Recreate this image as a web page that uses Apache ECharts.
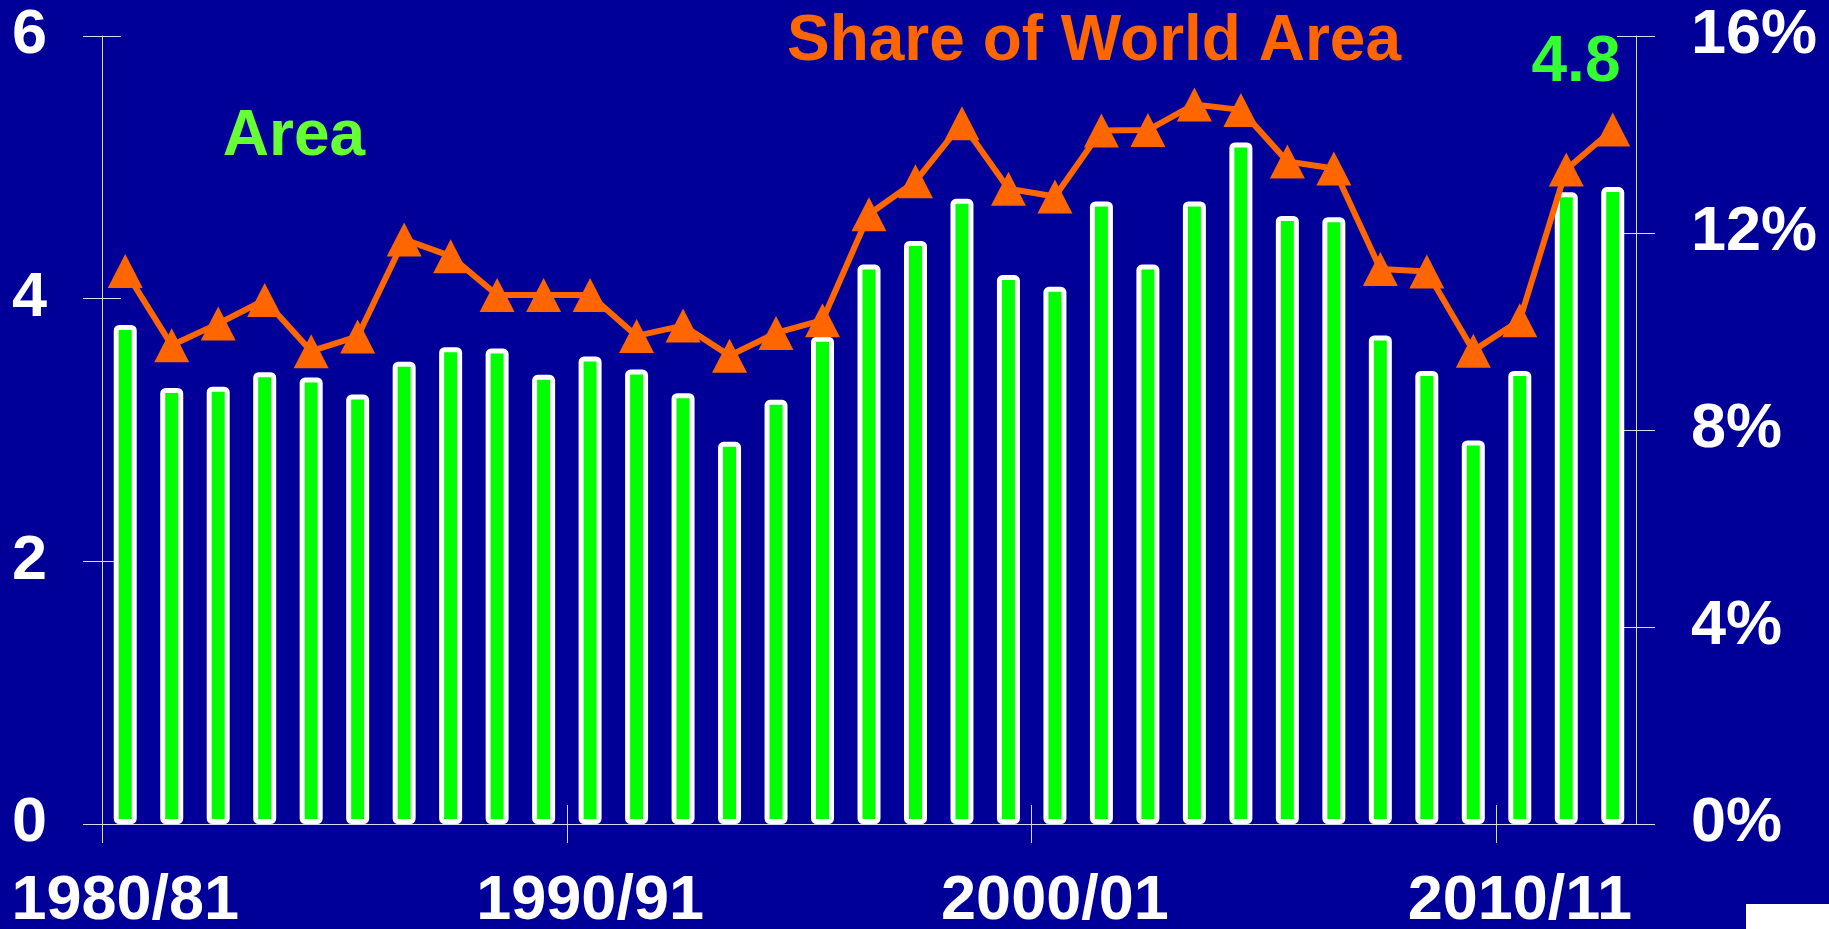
<!DOCTYPE html>
<html>
<head>
<meta charset="utf-8">
<title>Area and Share of World Area</title>
<script src="https://cdn.jsdelivr.net/npm/echarts@6/dist/echarts.min.js"></script>
<style>
  html, body { margin: 0; padding: 0; background: #000099; }
  #main { width: 1829px; height: 929px; }
</style>
</head>
<body>
<div id="main"></div>
<script>
// marketing years on the x axis
const years = [
  "1980/81", "1981/82", "1982/83", "1983/84", "1984/85", "1985/86", "1986/87", "1987/88",
  "1988/89", "1989/90", "1990/91", "1991/92", "1992/93", "1993/94", "1994/95", "1995/96",
  "1996/97", "1997/98", "1998/99", "1999/00", "2000/01", "2001/02", "2002/03", "2003/04",
  "2004/05", "2005/06", "2006/07", "2007/08", "2008/09", "2009/10", "2010/11", "2011/12",
  "2012/13"
];
// area (left axis)
const area = [
  3.80, 3.32, 3.33, 3.44, 3.40, 3.27, 3.52, 3.63, 3.62, 3.42, 3.56, 3.46, 3.28, 2.91, 3.23, 3.71,
  4.26, 4.44, 4.76, 4.18, 4.09, 4.74, 4.26, 4.74, 5.19, 4.63, 4.62, 3.72, 3.45, 2.92, 3.45, 4.81,
  4.85
];
// share of world area, % (right axis)
const share = [
  11.23, 9.72, 10.16, 10.64, 9.60, 9.90, 11.87, 11.53, 10.74, 10.74, 10.74, 9.91, 10.12, 9.51, 9.97, 10.23,
  12.38, 13.05, 14.23, 12.90, 12.74, 14.08, 14.09, 14.61, 14.50, 13.45, 13.31, 11.27, 11.22, 9.61, 10.23, 13.29,
  14.10
];
const leftTicks = { min: 0, max: 6, interval: 2 };
const rightTicks = { min: 0, max: 16, interval: 4 };
// year ticks every 10 seasons, counted in category boundaries
const yearTicks = { min: 0, max: 30, interval: 10 };
const lastLabel = "4.8";

const FONT = '"Liberation Sans", Arial, sans-serif';
const axisColor = "#d8d8ee";
const labelStyle = { color: "#ffffff", fontSize: 63, fontWeight: "bold", fontFamily: FONT };

let chart = echarts.init(document.getElementById("main"));

// one band is (1636 - 102) / 33 px wide; the tick grid ends at boundary 30
const plotLeft = 102, plotRight = 1636;
const band = (plotRight - plotLeft) / years.length;
const tickGridRight = 1829 - (plotLeft + band * yearTicks.max);

const tickAxis = (inside) => ({
  type: "value",
  gridIndex: 1,
  position: "bottom",
  min: yearTicks.min,
  max: yearTicks.max,
  interval: yearTicks.interval,
  axisLine: { show: false },
  axisTick: { show: true, inside: inside, length: 19, lineStyle: { color: axisColor } },
  axisLabel: { show: false },
  splitLine: { show: false }
});

let option = {
  backgroundColor: "#000099",
  animation: false,
  grid: [
    { left: plotLeft, right: 1829 - plotRight, top: 36, bottom: 105, outerBoundsMode: "none" },
    { left: plotLeft, right: tickGridRight, top: 36, bottom: 105, outerBoundsMode: "none" }
  ],
  xAxis: [
    {
      type: "category",
      data: years,
      gridIndex: 0,
      position: "bottom",
      axisLine: { show: true, lineStyle: { color: axisColor, width: 1 } },
      axisTick: { show: false },
      axisLabel: Object.assign({ interval: 9, margin: 46 }, labelStyle),
      splitLine: { show: false }
    },
    tickAxis(false),
    tickAxis(true)
  ],
  yAxis: [
    {
      type: "value",
      position: "left",
      min: leftTicks.min,
      max: leftTicks.max,
      interval: leftTicks.interval,
      axisLine: { show: true, lineStyle: { color: axisColor, width: 1 } },
      axisTick: { show: true, length: 19, lineStyle: { color: axisColor } },
      axisLabel: Object.assign({ margin: 55 }, labelStyle),
      splitLine: { show: false }
    },
    {
      type: "value",
      position: "right",
      min: rightTicks.min,
      max: rightTicks.max,
      interval: rightTicks.interval,
      axisLine: { show: true, lineStyle: { color: axisColor, width: 1 } },
      axisTick: { show: true, length: 19, lineStyle: { color: axisColor } },
      axisLabel: Object.assign({ margin: 55, formatter: "{value}%" }, labelStyle),
      splitLine: { show: false }
    },
    {
      type: "value",
      position: "left",
      min: leftTicks.min,
      max: leftTicks.max,
      interval: leftTicks.interval,
      axisLine: { show: false },
      axisTick: { show: true, inside: true, length: 19, lineStyle: { color: axisColor } },
      axisLabel: { show: false },
      splitLine: { show: false }
    },
    {
      type: "value",
      position: "right",
      min: rightTicks.min,
      max: rightTicks.max,
      interval: rightTicks.interval,
      axisLine: { show: false },
      axisTick: { show: true, inside: true, length: 19, lineStyle: { color: axisColor } },
      axisLabel: { show: false },
      splitLine: { show: false }
    },
    {
      type: "value",
      gridIndex: 1,
      show: false
    }
  ],
  series: [
    {
      name: "Area",
      type: "bar",
      xAxisIndex: 0,
      yAxisIndex: 0,
      barWidth: 23,
      data: area,
      itemStyle: {
        color: "#00ff00",
        borderColor: "#ffffff",
        borderWidth: 5,
        borderRadius: 3
      },
      z: 2
    },
    {
      name: "Share of World Area",
      type: "line",
      xAxisIndex: 0,
      yAxisIndex: 1,
      data: share,
      symbol: "triangle",
      symbolSize: [35, 34],
      showAllSymbol: true,
      lineStyle: { color: "#ff6600", width: 6 },
      itemStyle: { color: "#ff6600" },
      z: 3
    }
  ],
  graphic: [
    {
      type: "text",
      x: 1094,
      y: 10,
      style: {
        text: "Share of World Area",
        fill: "#ff6600",
        font: "bold 64px " + FONT,
        align: "center",
        verticalAlign: "top"
      }
    },
    {
      type: "text",
      x: 294,
      y: 105,
      style: {
        text: "Area",
        fill: "#66ff33",
        font: "bold 64px " + FONT,
        align: "center",
        verticalAlign: "top"
      }
    },
    {
      type: "text",
      x: 1576,
      y: 31,
      style: {
        text: lastLabel,
        fill: "#33ff33",
        font: "bold 64px " + FONT,
        align: "center",
        verticalAlign: "top"
      }
    },
    {
      // corner of a cut-off logo
      type: "rect",
      shape: { x: 1746, y: 904, width: 83, height: 25 },
      style: { fill: "#ffffff" }
    }
  ]
};

chart.setOption(option);
</script>
</body>
</html>
